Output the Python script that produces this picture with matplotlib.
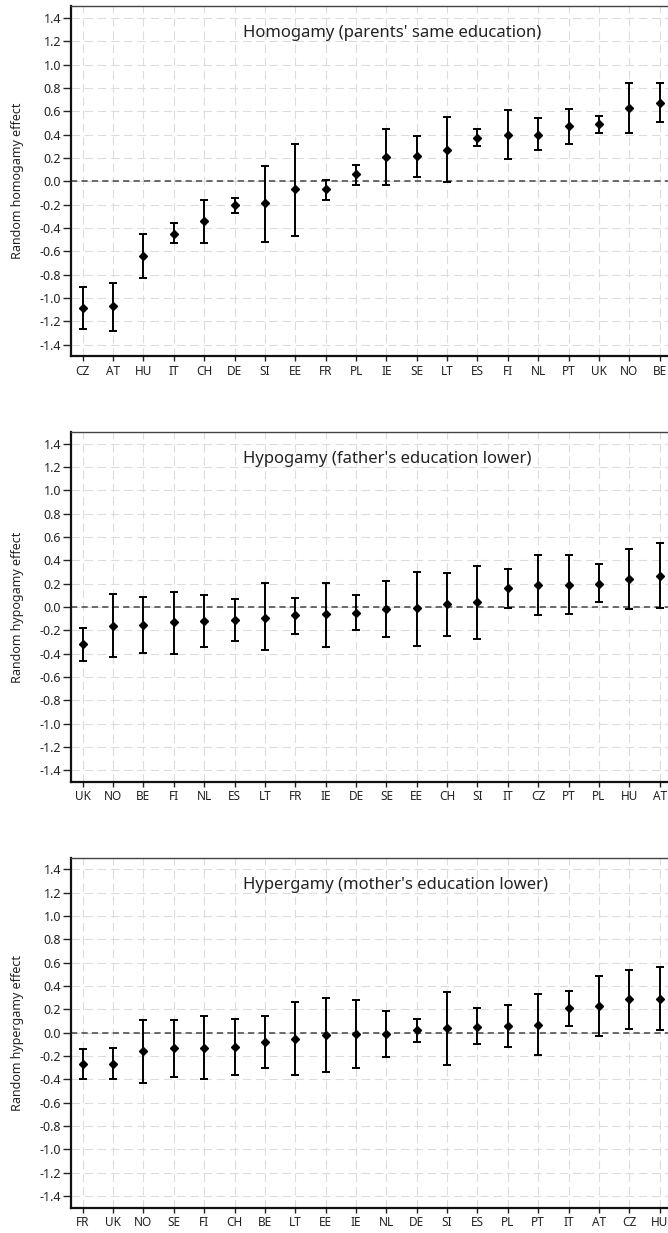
import matplotlib
matplotlib.use("Agg")
import matplotlib.pyplot as plt
import numpy as np

plt.rcParams.update({
    "font.family": ["Noto Sans", "DejaVu Sans"],
    "lines.scale_dashes": False,
})

# Panel 1: homogamy
homo_countries = ["CZ", "AT", "HU", "IT", "CH", "DE", "SI", "EE", "FR", "PL",
                  "IE", "SE", "LT", "ES", "FI", "NL", "PT", "UK", "NO", "BE"]
homo_est = [-1.09, -1.07, -0.64, -0.45, -0.34, -0.20, -0.19, -0.07, -0.07, 0.06,
            0.21, 0.22, 0.27, 0.37, 0.40, 0.40, 0.47, 0.49, 0.63, 0.67]
homo_lo = [-1.27, -1.28, -0.83, -0.53, -0.53, -0.27, -0.52, -0.47, -0.16, -0.03,
           -0.03, 0.04, -0.01, 0.30, 0.19, 0.27, 0.32, 0.41, 0.41, 0.51]
homo_hi = [-0.91, -0.87, -0.45, -0.36, -0.16, -0.14, 0.13, 0.32, 0.01, 0.14,
           0.45, 0.39, 0.55, 0.45, 0.61, 0.54, 0.62, 0.56, 0.84, 0.84]

# Panel 2: hypogamy
hypo_countries = ["UK", "NO", "BE", "FI", "NL", "ES", "LT", "FR", "IE", "DE",
                  "SE", "EE", "CH", "SI", "IT", "CZ", "PT", "PL", "HU", "AT"]
hypo_est = [-0.32, -0.16, -0.15, -0.13, -0.12, -0.11, -0.09, -0.07, -0.06, -0.05,
            -0.02, -0.01, 0.03, 0.04, 0.16, 0.19, 0.19, 0.20, 0.24, 0.27]
hypo_lo = [-0.46, -0.43, -0.39, -0.40, -0.34, -0.29, -0.37, -0.23, -0.34, -0.20,
           -0.26, -0.33, -0.25, -0.27, -0.01, -0.07, -0.06, 0.04, -0.02, -0.01]
hypo_hi = [-0.18, 0.11, 0.09, 0.13, 0.10, 0.07, 0.21, 0.08, 0.21, 0.10,
           0.22, 0.30, 0.29, 0.35, 0.33, 0.45, 0.45, 0.37, 0.50, 0.55]

# Panel 3: hypergamy
hyper_countries = ["FR", "UK", "NO", "SE", "FI", "CH", "BE", "LT", "EE", "IE",
                   "NL", "DE", "SI", "ES", "PL", "PT", "IT", "AT", "CZ", "HU"]
hyper_est = [-0.27, -0.27, -0.16, -0.13, -0.13, -0.12, -0.08, -0.05, -0.02, -0.01,
             -0.01, 0.02, 0.04, 0.05, 0.06, 0.07, 0.21, 0.23, 0.29, 0.29]
hyper_lo = [-0.40, -0.40, -0.43, -0.38, -0.40, -0.36, -0.30, -0.36, -0.34, -0.30,
            -0.21, -0.08, -0.28, -0.10, -0.12, -0.19, 0.06, -0.03, 0.03, 0.02]
hyper_hi = [-0.14, -0.13, 0.11, 0.11, 0.14, 0.12, 0.14, 0.26, 0.30, 0.28,
            0.19, 0.12, 0.35, 0.21, 0.24, 0.33, 0.36, 0.49, 0.54, 0.56]

panels = [
    (homo_countries, homo_est, homo_lo, homo_hi,
     "Homogamy (parents' same education)", "Random homogamy effect"),
    (hypo_countries, hypo_est, hypo_lo, hypo_hi,
     "Hypogamy (father's education lower)", "Random hypogamy effect"),
    (hyper_countries, hyper_est, hyper_lo, hyper_hi,
     "Hypergamy (mother's education lower)", "Random hypergamy effect"),
]

W, H = 668, 1233
fig = plt.figure(figsize=(W / 100, H / 100), dpi=100)

left = 71 / W
width = (671.4 - 71) / W
tops = [6.3, 432.0, 857.7]
ax_h = 350

ink = "#222222"
yticks = np.round(np.arange(-1.4, 1.41, 0.2), 1)
ytick_labels = [f"{v:.1f}" if abs(v) > 1e-9 else "0.0" for v in yticks]

for (countries, est, lo, hi, title, ylabel), top in zip(panels, tops):
    bottom = (H - top - ax_h) / H
    ax = fig.add_axes([left, bottom, width, ax_h / H])
    x = np.arange(1, len(countries) + 1)
    est = np.array(est)
    err = [est - np.array(lo), np.array(hi) - est]

    ax.grid(True, color="#dcdcdc", linewidth=0.8, dashes=(6, 3.5), zorder=0)
    ax.set_axisbelow(True)
    ax.axhline(0, color="#444444", linewidth=1.1, dashes=(4.5, 3), zorder=1)
    ax.errorbar(x, est, yerr=err, fmt="D", color="black", ms=3.6,
                ecolor="black", elinewidth=1.4, capsize=3.2, capthick=1.4,
                zorder=3)

    ax.set_xlim(0.615, len(countries) + 0.385)
    ax.set_ylim(-1.5, 1.5)
    ax.set_xticks(x)
    ax.set_xticklabels(countries)
    ax.set_yticks(yticks)
    ax.set_yticklabels(ytick_labels)
    ax.tick_params(axis="y", direction="out", length=5.5, width=1.0,
                   pad=1.5, labelsize=9, colors=ink)
    ax.tick_params(axis="x", direction="out", length=3.5, width=1.0,
                   pad=2.5, labelsize=8.5, colors=ink)
    ax.set_ylabel(ylabel, fontsize=9, color=ink, labelpad=11.5)

    for side in ("left", "bottom"):
        ax.spines[side].set_linewidth(1.6)
        ax.spines[side].set_color("#111111")
    ax.spines["top"].set_linewidth(1.0)
    ax.spines["top"].set_color("#444444")
    ax.spines["right"].set_visible(False)

    # title sits inside the plot, x in axes fraction, y in data units
    ax.text(0.286, 1.27, title, transform=ax.get_yaxis_transform(),
            fontsize=12, color=ink, ha="left", va="center")

fig.savefig("out.png", dpi=100)
